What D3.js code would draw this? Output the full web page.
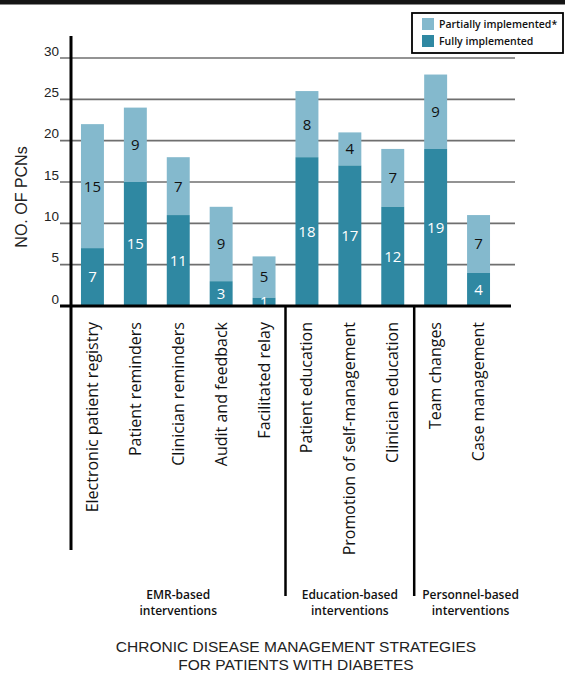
<!DOCTYPE html>
<html>
<head>
<meta charset="utf-8">
<script src="https://cdn.jsdelivr.net/npm/d3@7"></script>
<style>
  body { margin: 0; background: #fff; }
  svg { display: block; }
</style>
</head>
<body>
<div id="chart"></div>
<script>
// data
var strategies = ["Electronic patient registry", "Patient reminders", "Clinician reminders",
	"Audit and feedback", "Facilitated relay", "Patient education", "Promotion of self-management",
	"Clinician education", "Team changes", "Case management"];
var fully = [7, 15, 11, 3, 1, 18, 17, 12, 19, 4];
var partially = [15, 9, 7, 9, 5, 8, 4, 7, 9, 7];
var groupNames = [["EMR-based", "interventions"], ["Education-based", "interventions"], ["Personnel-based", "interventions"]];
var groupSizes = [5, 3, 2];
var yTicks = [0, 5, 10, 15, 20, 25, 30];
var seriesNames = ["Partially implemented*", "Fully implemented"];

var colPartial = "#84b9cd", colFull = "#2f88a2";
var W = 565, H = 676;
var sans = "'Open Sans', 'Noto Sans', sans-serif";
var helv = "'Liberation Sans', Arial, sans-serif";

var svg = d3.select("#chart").append("svg").attr("width", W).attr("height", H);

// black rule across the top
svg.append("rect").attr("x", 0).attr("y", 0).attr("width", W).attr("height", 4.5).attr("fill", "#151515");

var x = d3.scaleBand().domain(strategies).range([71, 500]).paddingInner(0.465).paddingOuter(0.2325);
var y = d3.scaleLinear().domain([0, 30]).range([306, 58]);

// gridlines
svg.append("g").selectAll("line").data(yTicks.filter(function(d) { return d > 0; }))
	.enter().append("line")
	.attr("x1", 60).attr("x2", 515)
	.attr("y1", function(d) { return y(d); }).attr("y2", function(d) { return y(d); })
	.attr("stroke", "#6f6f6f").attr("stroke-width", 1.6);

// y tick labels (sit a little above their lines)
svg.append("g").selectAll("text").data(yTicks)
	.enter().append("text")
	.attr("x", 59).attr("y", function(d) { return y(d) - 2.5; })
	.attr("text-anchor", "end")
	.attr("font-family", helv).attr("font-size", 13.5).attr("fill", "#222")
	.text(function(d) { return d; });

// stacked bars
var rows = strategies.map(function(s, i) { return {name: s, full: fully[i], part: partially[i]}; });
var bars = svg.append("g").selectAll("g").data(rows).enter().append("g");

bars.append("rect")
	.attr("x", function(d) { return x(d.name); })
	.attr("width", x.bandwidth())
	.attr("y", function(d) { return y(d.full + d.part); })
	.attr("height", function(d) { return y(d.full) - y(d.full + d.part); })
	.attr("fill", colPartial);

bars.append("rect")
	.attr("x", function(d) { return x(d.name); })
	.attr("width", x.bandwidth())
	.attr("y", function(d) { return y(d.full); })
	.attr("height", function(d) { return y(0) - y(d.full); })
	.attr("fill", colFull);

bars.append("text")
	.attr("x", function(d) { return x(d.name) + x.bandwidth() / 2; })
	.attr("y", function(d) { return y(d.full + d.part / 2); })
	.attr("dy", "0.36em")
	.attr("text-anchor", "middle")
	.attr("font-family", sans).attr("font-size", 15).attr("fill", "#111")
	.text(function(d) { return d.part; });

bars.append("text")
	.attr("x", function(d) { return x(d.name) + x.bandwidth() / 2; })
	.attr("y", function(d) { return y(d.full / 2); })
	.attr("dy", "0.36em")
	.attr("text-anchor", "middle")
	.attr("font-family", sans).attr("font-size", 15).attr("fill", "#fff")
	.text(function(d) { return d.full; });

// axes
svg.append("line").attr("x1", 71).attr("x2", 71).attr("y1", 36).attr("y2", 550)
	.attr("stroke", "#000").attr("stroke-width", 3);
svg.append("line").attr("x1", 60).attr("x2", 511).attr("y1", y(0)).attr("y2", y(0))
	.attr("stroke", "#000").attr("stroke-width", 3);

// category labels, rotated
svg.append("g").selectAll("text").data(strategies)
	.enter().append("text")
	.attr("transform", function(d) { return "translate(" + (x(d) + x.bandwidth() / 2 + 5.5) + ",322) rotate(-90)"; })
	.attr("text-anchor", "end")
	.attr("font-family", sans).attr("font-size", 16).attr("fill", "#111")
	.text(function(d) { return d; });

// group separators and labels
var start = 0, bounds = [];
groupSizes.forEach(function(n, gi) {
	var first = strategies[start], last = strategies[start + n - 1];
	var cx = (x(first) + x(last) + x.bandwidth()) / 2;
	var leftSep = gi === 0 ? 71 : bounds[gi - 1];
	if (gi < groupSizes.length - 1) {
		var sep = (x(last) + x.bandwidth() + x(strategies[start + n])) / 2;
		bounds.push(sep);
		svg.append("line").attr("x1", sep).attr("x2", sep).attr("y1", y(0)).attr("y2", 596)
			.attr("stroke", "#000").attr("stroke-width", 2.5);
	}
	var lines = groupNames[gi].map(function(line, li) {
		return svg.append("text")
			.attr("x", cx).attr("y", 599 + li * 15.5)
			.attr("text-anchor", "middle")
			.attr("font-family", sans).attr("font-size", 12).attr("font-weight", 600).attr("fill", "#111")
			.text(line);
	});
	// keep the label clear of the separator on its left
	var wMax = d3.max(lines, function(t) { return t.node().getComputedTextLength(); });
	if (gi > 0 && cx - wMax / 2 < leftSep + 8) {
		var nx = leftSep + 8 + wMax / 2;
		lines.forEach(function(t) { t.attr("x", nx); });
	}
	start += n;
});

// y axis title
svg.append("text")
	.attr("transform", "translate(27,197) rotate(-90)")
	.attr("text-anchor", "middle")
	.attr("font-family", helv).attr("font-size", 16).attr("fill", "#222")
	.text("NO. OF PCNs");

// x axis title
var title = svg.append("text").attr("text-anchor", "middle")
	.attr("font-family", helv).attr("font-size", 15.5).attr("fill", "#222");
title.append("tspan").attr("x", 296).attr("y", 652).text("CHRONIC DISEASE MANAGEMENT STRATEGIES");
title.append("tspan").attr("x", 296).attr("y", 670).text("FOR PATIENTS WITH DIABETES");

// legend
var lg = svg.append("g");
lg.append("rect").attr("x", 412).attr("y", 13).attr("width", 151).attr("height", 40)
	.attr("fill", "#fff").attr("stroke", "#000").attr("stroke-width", 1.8);
[colPartial, colFull].forEach(function(c, i) {
	lg.append("rect").attr("x", 422).attr("y", 18 + i * 17).attr("width", 12).attr("height", 12).attr("fill", c);
	lg.append("text").attr("x", 439).attr("y", 28 + i * 17)
		.attr("font-family", sans).attr("font-size", 10.5).attr("font-weight", 600).attr("fill", "#111")
		.text(seriesNames[i]);
});
</script>
</body>
</html>
